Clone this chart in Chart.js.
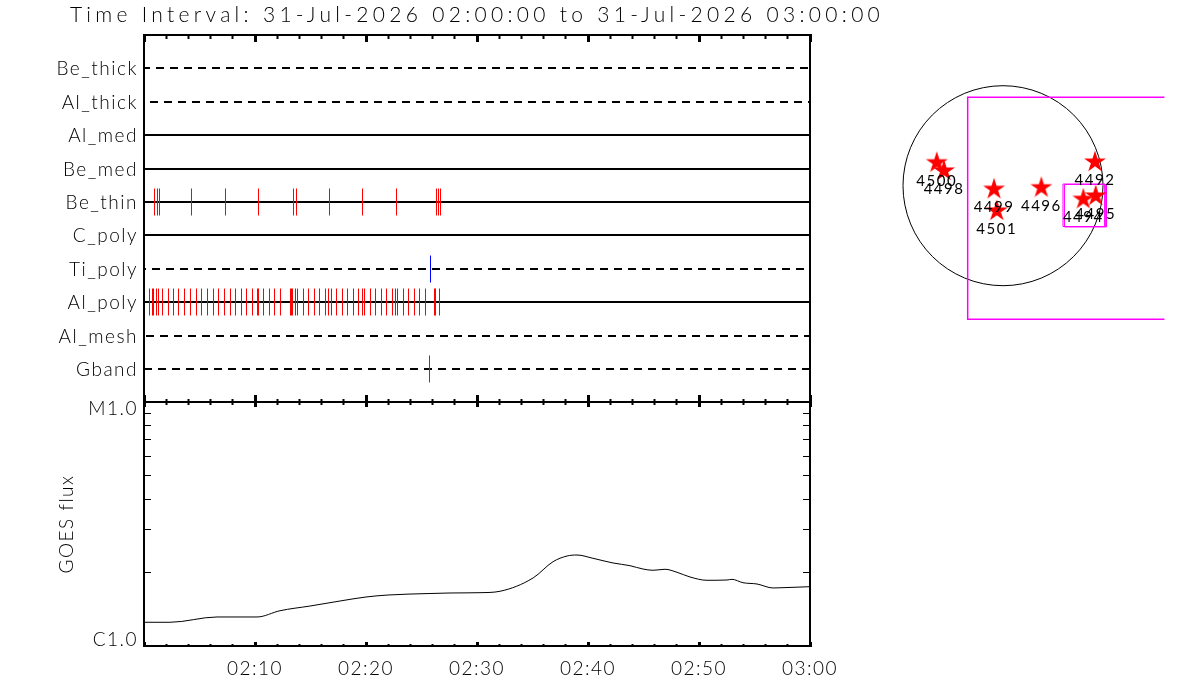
<!DOCTYPE html>
<html>
<head>
<meta charset="utf-8">
<title>Time Interval</title>
<script src="https://cdn.jsdelivr.net/npm/chart.js@4"></script>
<style>
    html, body { margin: 0; padding: 0; background: #ffffff; }
    canvas { position: absolute; left: 0; top: 0; }
</style>
</head>
<body>
<canvas id="title-chart" width="1200" height="700"></canvas>
<canvas id="channel-chart" width="1200" height="700"></canvas>
<canvas id="flux-chart" width="1200" height="700"></canvas>
<canvas id="map-chart" width="1200" height="700"></canvas>
<script>

const titleText = 'Time Interval: 31-Jul-2026 02:00:00 to 31-Jul-2026 03:00:00';

// x is minutes after 02:00
const timeLabels = ['', '02:10', '02:20', '02:30', '02:40', '02:50', '03:00'];

// channel lines, levels (0 at its bottom edge)
const channelNames = ['Be_thick', 'Al_thick', 'Al_med', 'Be_med', 'Be_thin', 'C_poly', 'Ti_poly', 'Al_poly', 'Al_mesh', 'Gband'];
const channelLevels = [334, 300, 267, 233, 200, 167, 133, 100, 66, 33];
const channelStart = [0, 0.54, 0, 0, 0, 0, 0, 0, 0.18, 0];
const channelEnd = [59.82, 60, 60, 60, 60, 60, 59.46, 60, 60, 60];

// event times per channel
const beThinEvents = [0.946, 1.216, 1.396, 4.279, 7.342, 10.315, 13.468, 13.739, 16.712, 19.685, 22.748, 26.351, 26.532, 26.712];
const alPolyEvents = [
    0.495, 0.766, 0.856, 1.126, 1.306, 1.667, 2.207, 2.658, 3.108, 3.649, 4.189, 4.730, 5.180, 5.721, 6.261,
    6.712, 7.252, 7.793, 8.243, 8.784, 9.234, 9.775, 10.225, 10.315, 10.766, 11.306, 11.757, 12.297, 13.198,
    13.288, 13.378, 13.649, 13.829, 14.369, 14.820, 15.360, 15.811, 16.351, 16.622, 16.892, 17.342, 17.883,
    18.333, 18.874, 19.324, 19.685, 19.865, 20.405, 20.856, 21.396, 21.847, 22.387, 22.658, 22.838, 23.378,
    23.829, 24.369, 24.820, 25.360, 26.171, 26.261, 26.622
];
const tiPolyEvents = [25.811];
const gbandEvents = [25.721];

// GOES flux in units of C1.0
const fluxMinutes = [0, 2.34, 6.58, 10.18, 12.25, 14.95, 17.66, 20.0, 21.98, 25.77, 27.57, 30.27, 32.07, 35.05, 36.85, 38.11, 39.01,
    40.45, 42.25, 43.78, 44.95, 45.86, 46.94, 48.02, 49.19, 50.72, 52.52, 52.97, 53.96, 55.23, 56.67, 57.57, 60];
const fluxValues = [1.251, 1.251, 1.315, 1.315, 1.395, 1.458, 1.529, 1.588, 1.618, 1.641, 1.649, 1.654, 1.676, 1.900, 2.216, 2.338, 2.360,
    2.288, 2.189, 2.134, 2.068, 2.043, 2.063, 2.005, 1.918, 1.859, 1.864, 1.876, 1.817, 1.795, 1.729, 1.734, 1.750];
const fluxTicks = [1, 2, 3, 4, 5, 6, 7, 8, 9, 10];
// the labels sit inside the ends of the axis, not on the end ticks
const fluxLabelLevels = [1.058, 9.36];
const fluxLabels = ['C1.0', 'M1.0'];

// active regions on the disc, arcsec from sun centre
const regionNames = ['4492', '4494', '4495', '4496', '4498', '4499', '4500', '4501'];
const regionX = [883, 771, 890, 368, -566, -86, -636, -60];
const regionY = [237, -121, -89, -10, 151, -25, 230, -233];

// fields of view, arcsec
const largeBoxX = [1900, -339, -339, 1900];
const largeBoxY = [849, 849, -1283, -1283];
const smallBoxAX = [576, 979, 979, 576, 576];
const smallBoxAY = [16, 16, -392, -392, 16];
const smallBoxBX = [590, 993, 993, 590, 590];
const smallBoxBY = [12, 12, -396, -396, 12];

const textFont = 'Lato, "Liberation Sans", sans-serif';
const PANEL_LEFT = 144;
const PANEL_RIGHT = 1200 - 810;
const LABEL_HEIGHT = 54;

// Chart.js has no letter spacing option, the old plotter font is wide
function spacing(value) {
    return {
        id: 'spacing',
        beforeDraw(chart) {
            chart.ctx.letterSpacing = value;
        }
    };
}

function timeAxis(position, step, length, width, border, labelled) {
    return {
        type: 'linear',
        position: position,
        min: 0,
        max: 60,
        // labels get clipped to the scale box, so only the labelled axis has a height
        weight: labelled ? 0 : -1,
        afterFit(scale) {
            scale.height = labelled ? LABEL_HEIGHT : 0;
        },
        border: { display: border, width: 2, color: '#000000' },
        grid: { drawOnChartArea: false, tickLength: -length, tickWidth: width, tickColor: '#000000' },
        ticks: {
            display: labelled,
            stepSize: step,
            autoSkip: false,
            maxRotation: 0,
            padding: 11 + length,
            color: '#000000',
            font: { family: textFont, size: 19, weight: 300 },
            callback: (value) => timeLabels[value / 10] || ''
        }
    };
}

function baseOptions(padding) {
    return {
        responsive: false,
        animation: false,
        events: [],
        layout: { autoPadding: false, padding: padding },
        plugins: { legend: { display: false }, tooltip: { enabled: false }, title: { display: false } }
    };
}

// title, its box is wider than the panel but centred on it
new Chart(document.getElementById('title-chart').getContext('2d'), {
    type: 'scatter',
    data: { datasets: [] },
    plugins: [spacing('4.3px')],
    options: {
        ...baseOptions({ left: 0, right: 246, top: 3, bottom: 54 }),
        plugins: {
            legend: { display: false },
            tooltip: { enabled: false },
            title: {
                display: true,
                text: titleText,
                fullSize: false,
                padding: 0,
                color: '#000000',
                font: { family: textFont, size: 21, weight: 300, lineHeight: 1.2 }
            }
        },
        scales: { x: { display: false }, y: { display: false } }
    }
});

// channel panel
function eventDataset(events, row, color) {
    return {
        data: events.map(x => ({ x: x, y: channelLevels[channelNames.indexOf(row)] })),
        pointStyle: 'line',
        pointRotation: 90,
        pointRadius: 13.5,
        pointBorderWidth: 1,
        pointBorderColor: color,
        pointBackgroundColor: color
    };
}

const dashPhase = { Be_thick: 2, Al_thick: 0, Ti_poly: 6, Al_mesh: 0, Gband: 0 };

const channelLines = channelNames.map((name, i) => ({
    data: [{ x: channelStart[i], y: channelLevels[i] }, { x: channelEnd[i], y: channelLevels[i] }],
    showLine: true,
    pointRadius: 0,
    borderWidth: 2,
    borderColor: '#000000',
    borderDash: name in dashPhase ? [8, 6] : [],
    borderDashOffset: dashPhase[name] || 0
}));

new Chart(document.getElementById('channel-chart').getContext('2d'), {
    type: 'scatter',
    data: {
        datasets: [
            eventDataset(beThinEvents, 'Be_thin', '#ff0000'),
            eventDataset(alPolyEvents, 'Al_poly', '#ff0000'),
            eventDataset(tiPolyEvents, 'Ti_poly', '#0000ff'),
            eventDataset(gbandEvents, 'Gband', '#ff0000'),
            ...channelLines
        ]
    },
    plugins: [spacing('1.5px')],
    options: {
        ...baseOptions({ left: 0, right: PANEL_RIGHT, top: 35, bottom: 298 }),
        scales: {
            x: timeAxis('bottom', 10, 7, 3, true, false),
            xMinor: timeAxis('bottom', 2, 3, 2, false, false),
            xTop: timeAxis('top', 10, 7, 3, true, false),
            xTopMinor: timeAxis('top', 2, 4, 2, false, false),
            y: {
                type: 'linear',
                position: 'left',
                min: 0,
                max: 367,
                afterFit(scale) {
                    scale.width = PANEL_LEFT;
                },
                afterBuildTicks(scale) {
                    scale.ticks = channelLevels.map(value => ({ value: value }));
                },
                border: { width: 2, color: '#000000' },
                grid: { drawOnChartArea: false, drawTicks: false },
                ticks: {
                    autoSkip: false,
                    padding: 6,
                    labelOffset: 1,
                    color: '#000000',
                    font: { family: textFont, size: 19, weight: 300 },
                    callback: (value) => channelNames[channelLevels.indexOf(value)]
                }
            },
            yRight: {
                type: 'linear',
                position: 'right',
                min: 0,
                max: 367,
                afterFit(scale) {
                    scale.width = 0;
                },
                border: { width: 2, color: '#000000' },
                grid: { drawOnChartArea: false, drawTicks: false },
                ticks: { display: false }
            }
        }
    }
});

// GOES panel
function fluxTickAxis(position) {
    return {
        type: 'logarithmic',
        position: position,
        min: 1,
        max: 10,
        weight: -1,
        afterFit(scale) {
            scale.width = 0;
        },
        afterBuildTicks(scale) {
            scale.ticks = fluxTicks.map(value => ({ value: value }));
        },
        border: { width: 2, color: '#000000' },
        grid: { drawOnChartArea: false, tickLength: -7, tickWidth: 1, tickColor: '#000000' },
        ticks: { display: false, autoSkip: false, callback: () => '' }
    };
}

new Chart(document.getElementById('flux-chart').getContext('2d'), {
    type: 'scatter',
    data: {
        datasets: [{
            data: fluxMinutes.map((x, i) => ({ x: x, y: fluxValues[i] })),
            showLine: true,
            pointRadius: 0,
            borderWidth: 1,
            borderColor: '#000000',
            cubicInterpolationMode: 'monotone'
        }]
    },
    plugins: [spacing('1.5px')],
    options: {
        ...baseOptions({ left: 0, right: PANEL_RIGHT, top: 402, bottom: 0 }),
        scales: {
            x: timeAxis('bottom', 10, 4, 3, true, true),
            xMinor: timeAxis('bottom', 2, 2, 2, false, false),
            xTop: timeAxis('top', 10, 5, 3, true, false),
            xTopMinor: timeAxis('top', 2, 3, 2, false, false),
            y: {
                type: 'logarithmic',
                position: 'left',
                min: 1,
                max: 10,
                afterFit(scale) {
                    scale.width = PANEL_LEFT;
                },
                afterBuildTicks(scale) {
                    scale.ticks = fluxLabelLevels.map(value => ({ value: value }));
                },
                title: {
                    display: true,
                    text: 'GOES flux',
                    padding: { top: 55 },
                    color: '#000000',
                    font: { family: textFont, size: 19, weight: 300, lineHeight: 1.2 }
                },
                border: { display: false },
                grid: { display: false, drawTicks: false },
                ticks: {
                    autoSkip: false,
                    padding: 6,
                    color: '#000000',
                    font: { family: textFont, size: 19, weight: 300 },
                    callback: (value) => fluxLabels[fluxLabelLevels.indexOf(value)]
                }
            },
            yTicks: fluxTickAxis('left'),
            yRight: fluxTickAxis('right')
        }
    }
});

// filled five point star, the built in 'star' style is only an asterisk
function starImage() {
    let star = document.createElement('canvas');
    star.width = 24;
    star.height = 24;
    let ctx = star.getContext('2d');
    ctx.fillStyle = '#ff0000';
    ctx.beginPath();
    for (let i = 0; i < 10; i++) {
        let r = i % 2 ? 4.3 : 11.5;
        let a = -Math.PI / 2 + i * Math.PI / 5;
        ctx.lineTo(12 + r * Math.cos(a), 13 + r * Math.sin(a));
    }
    ctx.closePath();
    ctx.fill();
    return star;
}

const regionLabels = {
    id: 'regionLabels',
    afterDatasetsDraw(chart) {
        let ctx = chart.ctx;
        ctx.save();
        ctx.font = '400 15px ' + textFont;
        ctx.fillStyle = '#000000';
        ctx.textAlign = 'center';
        ctx.textBaseline = 'middle';
        chart.getDatasetMeta(0).data.forEach((point, i) => {
            ctx.fillText(regionNames[i], point.x, point.y + 19);
        });
        ctx.restore();
    }
};

function boxDataset(xs, ys, width) {
    return {
        data: xs.map((x, i) => ({ x: x, y: ys[i] })),
        showLine: true,
        pointRadius: 0,
        borderWidth: width,
        borderColor: '#ff00ff'
    };
}

// disc and regions, axes are 9.6 arcsec to the pixel
new Chart(document.getElementById('map-chart').getContext('2d'), {
    type: 'scatter',
    data: {
        datasets: [
            {
                data: regionX.map((x, i) => ({ x: x, y: regionY[i] })),
                pointStyle: starImage(),
                pointRadius: 12
            },
            boxDataset(smallBoxAX, smallBoxAY, 1),
            boxDataset(smallBoxBX, smallBoxBY, 1),
            boxDataset(largeBoxX, largeBoxY, 1.5),
            {
                data: [{ x: 0, y: 0 }],
                pointRadius: 100,
                pointBorderWidth: 1,
                pointBorderColor: '#000000',
                pointBackgroundColor: 'rgba(0,0,0,0)'
            }
        ]
    },
    plugins: [spacing('1.5px'), regionLabels],
    options: {
        ...baseOptions({ left: 888.42, right: 35.54, top: 81.53, bottom: 368.47 }),
        scales: {
            x: { type: 'linear', display: false, min: -1100, max: 1550 },
            y: { type: 'linear', display: false, min: -1400, max: 1000 }
        }
    }
});

</script>
</body>
</html>
